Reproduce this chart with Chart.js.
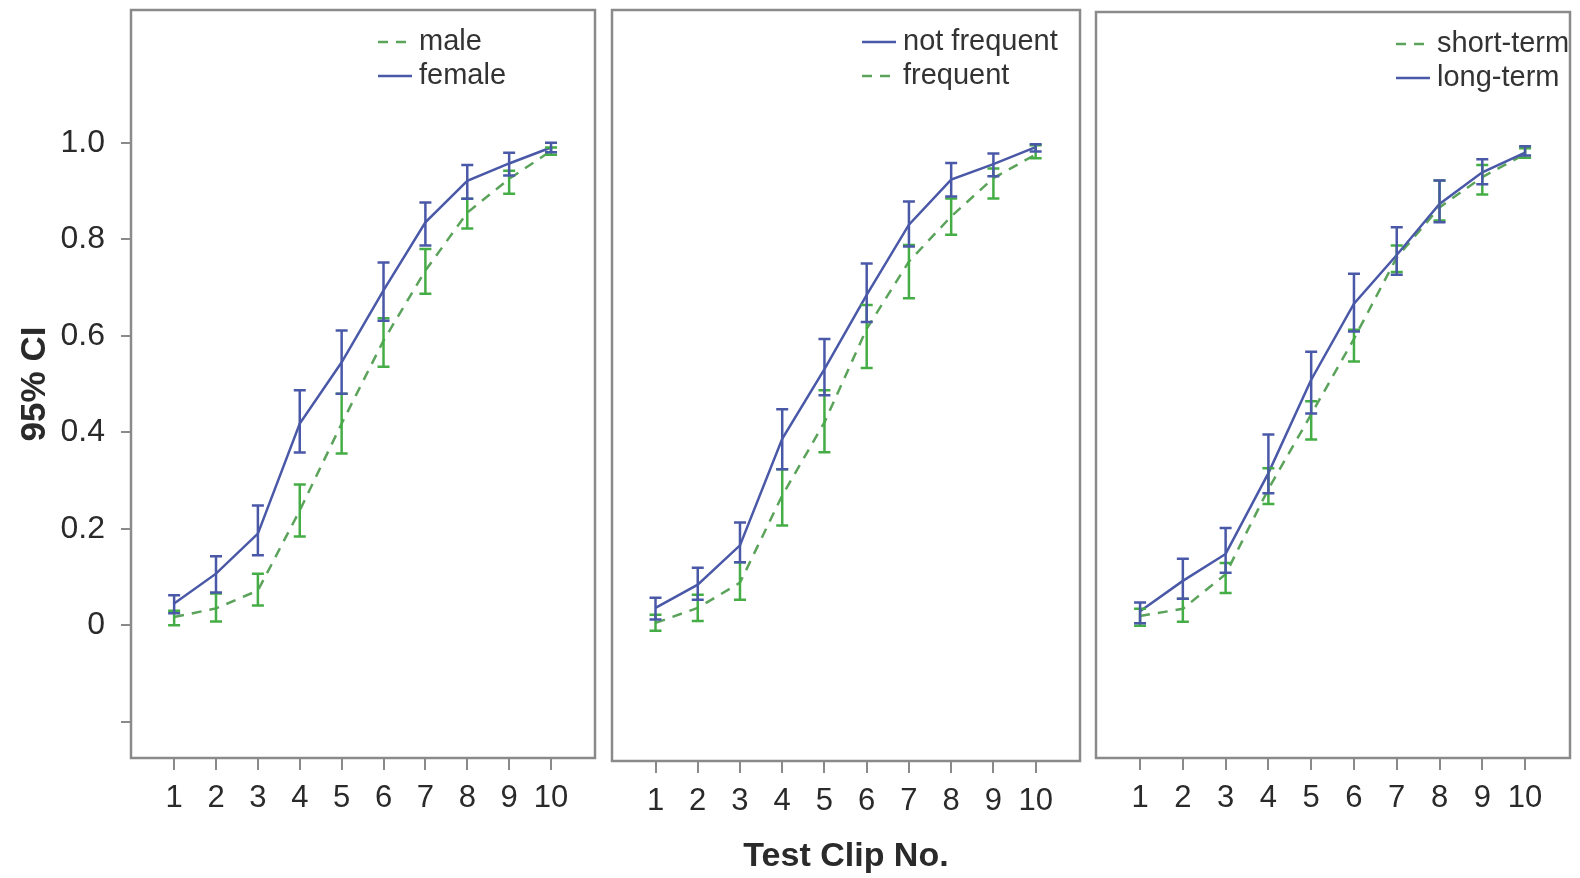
<!DOCTYPE html>
<html>
<head>
<meta charset="utf-8">
<script src="https://cdn.jsdelivr.net/npm/chart.js@4.4.1/dist/chart.umd.min.js"></script>
<style>
  html, body { margin: 0; padding: 0; background: #fff; }
  #wrap { position: relative; width: 1580px; height: 878px; }
  .panel { position: absolute; top: 0; height: 878px; }
</style>
</head>
<body>
<div id="wrap">
  <div class="panel" style="left:0;width:600px"><canvas id="p1"></canvas></div>
  <div class="panel" style="left:600px;width:490px"><canvas id="p2"></canvas></div>
  <div class="panel" style="left:1090px;width:490px"><canvas id="p3"></canvas></div>
</div>
<script>
// ---- data ----
const clips = [1, 2, 3, 4, 5, 6, 7, 8, 9, 10];
const yTickValues = [-0.2, 0, 0.2, 0.4, 0.6, 0.8, 1.0];
const yTickLabels = ['', '0', '0.2', '0.4', '0.6', '0.8', '1.0'];

// panel 1: gender
const femaleMean = [0.045, 0.107, 0.190, 0.418, 0.545, 0.694, 0.835, 0.921, 0.957, 0.990];
const femaleLo   = [0.025, 0.068, 0.145, 0.358, 0.480, 0.631, 0.787, 0.884, 0.932, 0.980];
const femaleHi   = [0.062, 0.143, 0.248, 0.487, 0.611, 0.752, 0.876, 0.954, 0.979, 1.000];
const maleMean   = [0.017, 0.035, 0.072, 0.238, 0.418, 0.590, 0.735, 0.855, 0.925, 0.983];
const maleLo     = [0.000, 0.008, 0.041, 0.184, 0.356, 0.536, 0.687, 0.822, 0.894, 0.975];
const maleHi     = [0.030, 0.066, 0.107, 0.292, 0.480, 0.636, 0.780, 0.884, 0.942, 0.990];

// panel 2: frequency
const notFreqMean = [0.041, 0.089, 0.170, 0.390, 0.534, 0.687, 0.832, 0.925, 0.957, 0.992];
const notFreqLo   = [0.017, 0.058, 0.135, 0.327, 0.480, 0.631, 0.787, 0.890, 0.932, 0.983];
const notFreqHi   = [0.062, 0.124, 0.217, 0.451, 0.596, 0.752, 0.880, 0.959, 0.979, 0.998];
const freqMean    = [0.010, 0.041, 0.093, 0.273, 0.424, 0.617, 0.756, 0.849, 0.928, 0.977];
const freqLo      = [-0.006, 0.014, 0.058, 0.211, 0.362, 0.536, 0.680, 0.811, 0.886, 0.969];
const freqHi      = [0.027, 0.068, 0.135, 0.327, 0.490, 0.666, 0.790, 0.886, 0.948, 0.996];

// panel 3: term
const longMean  = [0.030, 0.093, 0.149, 0.317, 0.511, 0.669, 0.770, 0.876, 0.942, 0.983];
const longLo    = [0.005, 0.056, 0.110, 0.275, 0.441, 0.611, 0.729, 0.838, 0.917, 0.977];
const longHi    = [0.048, 0.139, 0.203, 0.397, 0.569, 0.731, 0.828, 0.925, 0.969, 0.996];
const shortMean = [0.020, 0.035, 0.107, 0.284, 0.439, 0.596, 0.765, 0.869, 0.932, 0.980];
const shortLo   = [0.000, 0.008, 0.068, 0.253, 0.387, 0.549, 0.735, 0.842, 0.896, 0.972];
const shortHi   = [0.035, 0.056, 0.130, 0.327, 0.466, 0.615, 0.790, 0.925, 0.957, 0.992];

// ---- styles ----
const BLUE = '#4a58a8';
const GREEN = '#45ad45';
const GREEN_LINE = '#5ba35b';
const AXIS = '#8a8a8a';
const TEXT = '#2a2a2a';
const FONT = "'Liberation Sans', Arial, sans-serif";

Chart.defaults.font.family = FONT;
Chart.defaults.color = TEXT;
Chart.defaults.animation = false;

function solid(label, mean, lo, hi) {
  return {
    label, lo, hi,
    data: clips.map((c, i) => ({ x: c, y: mean[i] })),
    borderColor: BLUE, barColor: BLUE,
    borderWidth: 2.5, pointRadius: 0, tension: 0, fill: false,
  };
}

function dashed(label, mean, lo, hi) {
  return {
    label, lo, hi,
    data: clips.map((c, i) => ({ x: c, y: mean[i] })),
    borderColor: GREEN_LINE, barColor: GREEN,
    borderDash: [10, 8],
    borderWidth: 2.5, pointRadius: 0, tension: 0, fill: false,
  };
}

// error bars, box and in-plot legend
const panelDecor = {
  id: 'panelDecor',
  afterDatasetsDraw(chart) {
    const c = chart.ctx;
    const xs = chart.scales.x, ys = chart.scales.y;
    c.save();
    c.lineWidth = 2.5;
    c.setLineDash([]);
    // draw the last dataset first so the first one ends up on top
    for (let d = chart.data.datasets.length - 1; d >= 0; d--) {
      const ds = chart.data.datasets[d];
      c.strokeStyle = ds.barColor;
      clips.forEach((clip, i) => {
        const x = xs.getPixelForValue(clip);
        const yl = ys.getPixelForValue(ds.lo[i]);
        const yh = ys.getPixelForValue(ds.hi[i]);
        c.beginPath();
        c.moveTo(x, yl); c.lineTo(x, yh);
        c.moveTo(x - 6, yl); c.lineTo(x + 6, yl);
        c.moveTo(x - 6, yh); c.lineTo(x + 6, yh);
        c.stroke();
      });
    }
    c.restore();
  },
  afterDraw(chart, args, opts) {
    const c = chart.ctx;
    const { left, top, right, bottom } = chart.chartArea;
    c.save();
    c.strokeStyle = AXIS;
    c.lineWidth = 2.5;
    c.strokeRect(left, top, right - left, bottom - top);

    // legend
    c.font = '29px ' + FONT;
    c.textBaseline = 'middle';
    opts.items.forEach((idx, row) => {
      const ds = chart.data.datasets[idx];
      const y = top + 32 + row * 34;
      const x0 = left + opts.x;
      c.strokeStyle = ds.borderColor;
      c.lineWidth = 2.5;
      c.setLineDash(ds.borderDash || []);
      c.beginPath();
      c.moveTo(x0, y);
      c.lineTo(x0 + 34, y);
      c.stroke();
      c.setLineDash([]);
      c.fillStyle = '#333';
      c.fillText(ds.label, x0 + 41, y);
    });
    c.restore();
  }
};

function makePanel(id, datasets, cfg) {
  const ctx = document.getElementById(id).getContext('2d');
  return new Chart(ctx, {
    type: 'line',
    data: { datasets },
    options: {
      responsive: true,
      maintainAspectRatio: false,
      layout: { padding: cfg.padding },
      scales: {
        x: {
          type: 'linear',
          min: -0.03, max: 11.05,
          afterBuildTicks: s => { s.ticks = clips.map(v => ({ value: v })); },
          afterFit: s => {
            s.height = cfg.xHeight;
            s.paddingLeft = 0; s.paddingRight = 0;
          },
          border: { display: false },
          grid: { drawOnChartArea: false, drawTicks: true, tickLength: 12, color: AXIS, lineWidth: 2 },
          ticks: { font: { size: 31 }, color: TEXT, padding: 10, maxRotation: 0, autoSkip: false },
          title: {
            display: !!cfg.xTitle, text: cfg.xTitle || '',
            font: { size: 34, weight: 'bold' }, color: TEXT, padding: { top: 0, bottom: 1 },
          },
        },
        y: {
          display: cfg.showY,
          min: -0.275, max: 1.275,
          afterBuildTicks: s => { s.ticks = yTickValues.map(v => ({ value: v })); },
          afterFit: s => {
            if (cfg.showY) s.width = 131;
            s.paddingTop = 0; s.paddingBottom = 0;
          },
          border: { display: false },
          grid: { drawOnChartArea: false, drawTicks: true, tickLength: 10, color: AXIS, lineWidth: 2 },
          ticks: { font: { size: 32 }, color: TEXT, padding: 16, callback: (v, i) => yTickLabels[i] },
          title: {
            display: true, text: '95% CI',
            font: { size: 35, weight: 'bold' }, color: TEXT, padding: { top: 14, bottom: 0 },
          },
        },
      },
      plugins: {
        legend: { display: false },
        tooltip: { enabled: false },
        panelDecor: cfg.legend,
      },
    },
    plugins: [panelDecor],
  });
}

makePanel('p1', [
  solid('female', femaleMean, femaleLo, femaleHi),
  dashed('male', maleMean, maleLo, maleHi),
], {
  showY: true, xHeight: 120,
  padding: { top: 10, right: 5, left: 0, bottom: 0 },
  legend: { x: 247, items: [1, 0] },
});

makePanel('p2', [
  solid('not frequent', notFreqMean, notFreqLo, notFreqHi),
  dashed('frequent', freqMean, freqLo, freqHi),
], {
  showY: false, xHeight: 117, xTitle: 'Test Clip No.',
  padding: { top: 10, right: 10, left: 12, bottom: 0 },
  legend: { x: 250, items: [0, 1] },
});

makePanel('p3', [
  solid('long-term', longMean, longLo, longHi),
  dashed('short-term', shortMean, shortLo, shortHi),
], {
  showY: false, xHeight: 120,
  padding: { top: 12, right: 10, left: 6, bottom: 0 },
  legend: { x: 300, items: [1, 0] },
});
</script>
</body>
</html>
